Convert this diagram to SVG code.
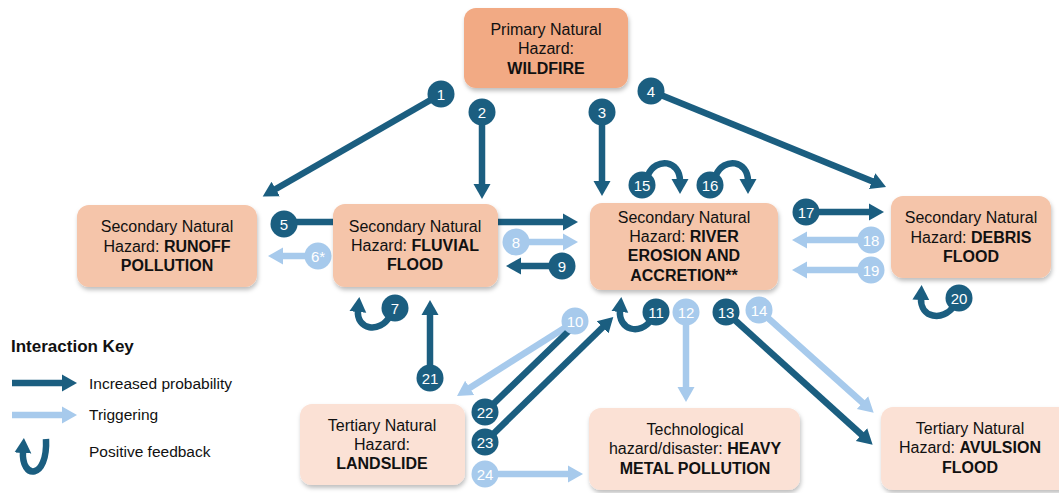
<svg xmlns="http://www.w3.org/2000/svg" width="1059" height="493" viewBox="0 0 1059 493">
<defs>
<filter id="sh" x="-10%" y="-10%" width="125%" height="130%">
<feDropShadow dx="1" dy="3" stdDeviation="2" flood-color="#000" flood-opacity="0.25"/>
</filter>
<marker id="ad" markerUnits="userSpaceOnUse" markerWidth="20" markerHeight="20" refX="2" refY="10" orient="auto"><path d="M0,1.5 L15,10 L0,18.5 Z" fill="#1B5E80"/></marker>
<marker id="al" markerUnits="userSpaceOnUse" markerWidth="20" markerHeight="20" refX="2" refY="10" orient="auto"><path d="M0,1.5 L15,10 L0,18.5 Z" fill="#A7CAEC"/></marker>
<style>
.box{stroke:none;filter:url(#sh)}
.p{fill:#F2AA84}.s{fill:#F5C5AA}.t{fill:#FBE1D5}
text{font-family:"Liberation Sans",Arial,sans-serif}
.nt{font-size:16px;fill:#111;text-anchor:middle}
.b{font-weight:bold}
.d{stroke:#1B5E80;stroke-width:6.5;fill:none}
.l{stroke:#A7CAEC;stroke-width:6.5;fill:none}
.cd{fill:#1B5E80}.cl{fill:#A7CAEC}
.n{font-size:15px;fill:#fff;text-anchor:middle}
.k{font-size:15.5px;fill:#111}
</style>
</defs>
<rect width="1059" height="493" fill="#fff"/>

<g id="connectors">
<line class="d" x1="441" y1="94" x2="274" y2="190" marker-end="url(#ad)"/>
<line class="d" x1="482" y1="112" x2="482" y2="186" marker-end="url(#ad)"/>
<line class="d" x1="602" y1="112" x2="602" y2="183" marker-end="url(#ad)"/>
<line class="d" x1="651" y1="91" x2="874" y2="182" marker-end="url(#ad)"/>
<line class="d" x1="284" y1="222" x2="565" y2="222" marker-end="url(#ad)"/>
<line class="l" x1="318" y1="256" x2="281" y2="256" marker-end="url(#al)"/>
<path class="d" d="M390,316 C380,334 356,330 358,310" marker-end="url(#ad)"/>
<line class="l" x1="516" y1="242" x2="565" y2="242" marker-end="url(#al)"/>
<line class="d" x1="562" y1="266" x2="519" y2="266" marker-end="url(#ad)"/>
<line class="l" x1="574" y1="322" x2="468" y2="389" marker-end="url(#al)"/>
<path class="d" d="M651,320 C640,336 618,330 620,310" marker-end="url(#ad)"/>
<line class="l" x1="686" y1="312" x2="686" y2="389" marker-end="url(#al)"/>
<line class="d" x1="726" y1="312" x2="863" y2="436" marker-end="url(#ad)"/>
<line class="l" x1="759" y1="310" x2="864" y2="404" marker-end="url(#al)"/>
<path class="d" d="M648,175 C656,157 680,160 680,181" marker-end="url(#ad)"/>
<path class="d" d="M716,175 C724,157 748,160 748,181" marker-end="url(#ad)"/>
<line class="d" x1="806" y1="212" x2="871" y2="212" marker-end="url(#ad)"/>
<line class="l" x1="871" y1="240" x2="805" y2="240" marker-end="url(#al)"/>
<line class="l" x1="871" y1="270" x2="805" y2="270" marker-end="url(#al)"/>
<path class="d" d="M954,306 C943,322 920,318 921,298" marker-end="url(#ad)"/>
<line class="d" x1="430" y1="378" x2="430" y2="313" marker-end="url(#ad)"/>
<line class="d" x1="485" y1="412" x2="577" y2="323" marker-end="url(#ad)"/>
<line class="d" x1="485" y1="442" x2="604" y2="326" marker-end="url(#ad)"/>
<line class="l" x1="485" y1="474" x2="570" y2="474" marker-end="url(#al)"/>

<g id="badges">
<circle class="cd" cx="441" cy="94" r="13.5"/><text class="n" x="441" y="99.5">1</text>
<circle class="cd" cx="482" cy="112" r="13.5"/><text class="n" x="482" y="117.5">2</text>
<circle class="cd" cx="602" cy="112" r="13.5"/><text class="n" x="602" y="117.5">3</text>
<circle class="cd" cx="651" cy="91" r="13.5"/><text class="n" x="651" y="96.5">4</text>
<circle class="cd" cx="284" cy="224" r="13.5"/><text class="n" x="284" y="229.5">5</text>
<circle class="cl" cx="318" cy="256" r="13.5"/><text class="n" x="318" y="261.5">6*</text>
<circle class="cd" cx="395" cy="308" r="13.5"/><text class="n" x="395" y="313.5">7</text>
<circle class="cl" cx="516" cy="242" r="13.5"/><text class="n" x="516" y="247.5">8</text>
<circle class="cd" cx="562" cy="266" r="13.5"/><text class="n" x="562" y="271.5">9</text>
<circle class="cl" cx="575" cy="321" r="13.5"/><text class="n" x="575" y="326.5">10</text>
<circle class="cd" cx="656" cy="312" r="13.5"/><text class="n" x="656" y="317.5">11</text>
<circle class="cl" cx="686" cy="312" r="13.5"/><text class="n" x="686" y="317.5">12</text>
<circle class="cd" cx="726" cy="312" r="13.5"/><text class="n" x="726" y="317.5">13</text>
<circle class="cl" cx="759" cy="310" r="13.5"/><text class="n" x="759" y="315.5">14</text>
<circle class="cd" cx="642" cy="185" r="13.5"/><text class="n" x="642" y="190.5">15</text>
<circle class="cd" cx="710" cy="185" r="13.5"/><text class="n" x="710" y="190.5">16</text>
<circle class="cd" cx="806" cy="212" r="13.5"/><text class="n" x="806" y="217.5">17</text>
<circle class="cl" cx="871" cy="240" r="13.5"/><text class="n" x="871" y="245.5">18</text>
<circle class="cl" cx="871" cy="270" r="13.5"/><text class="n" x="871" y="275.5">19</text>
<circle class="cd" cx="959" cy="298" r="13.5"/><text class="n" x="959" y="303.5">20</text>
<circle class="cd" cx="430" cy="378" r="13.5"/><text class="n" x="430" y="383.5">21</text>
<circle class="cd" cx="485" cy="412" r="13.5"/><text class="n" x="485" y="417.5">22</text>
<circle class="cd" cx="485" cy="442" r="13.5"/><text class="n" x="485" y="447.5">23</text>
<circle class="cl" cx="485" cy="474" r="13.5"/><text class="n" x="485" y="479.5">24</text>
</g>
</g>

<g id="wildfire">
<rect class="box p" x="464" y="8" width="164" height="80" rx="12"/>
<text class="nt" x="546" y="35">Primary Natural</text>
<text class="nt" x="546" y="54">Hazard:</text>
<text class="nt b" x="546" y="74">WILDFIRE</text>
</g>
<g id="runoff">
<rect class="box s" x="77" y="205" width="180" height="82" rx="12"/>
<text class="nt" x="167" y="232">Secondary Natural</text>
<text class="nt" x="167" y="252">Hazard: <tspan class="b">RUNOFF</tspan></text>
<text class="nt b" x="167" y="271">POLLUTION</text>
</g>
<g id="fluvial">
<rect class="box s" x="333" y="204" width="165" height="83" rx="12"/>
<text class="nt" x="415" y="232">Secondary Natural</text>
<text class="nt" x="415" y="251">Hazard: <tspan class="b">FLUVIAL</tspan></text>
<text class="nt b" x="415" y="270">FLOOD</text>
</g>
<g id="river">
<rect class="box s" x="590" y="203" width="188" height="87" rx="12"/>
<text class="nt" x="684" y="223">Secondary Natural</text>
<text class="nt" x="684" y="242">Hazard: <tspan class="b">RIVER</tspan></text>
<text class="nt b" x="684" y="261">EROSION AND</text>
<text class="nt b" x="684" y="281">ACCRETION**</text>
</g>
<g id="debris">
<rect class="box s" x="891" y="196" width="160" height="82" rx="12"/>
<text class="nt" x="971" y="223">Secondary Natural</text>
<text class="nt" x="971" y="243">Hazard: <tspan class="b">DEBRIS</tspan></text>
<text class="nt b" x="971" y="262">FLOOD</text>
</g>
<g id="landslide">
<rect class="box t" x="300" y="404" width="165" height="81" rx="12"/>
<text class="nt" x="382" y="431">Tertiary Natural</text>
<text class="nt" x="382" y="450">Hazard:</text>
<text class="nt b" x="382" y="469">LANDSLIDE</text>
</g>
<g id="heavymetal">
<rect class="box t" x="589" y="408" width="211" height="82" rx="12"/>
<text class="nt" x="695" y="435">Technological</text>
<text class="nt" x="695" y="454">hazard/disaster: <tspan class="b">HEAVY</tspan></text>
<text class="nt b" x="695" y="474">METAL POLLUTION</text>
</g>
<g id="avulsion">
<rect class="box t" x="881" y="407" width="190" height="83" rx="12"/>
<text class="nt" x="970" y="434">Tertiary Natural</text>
<text class="nt" x="970" y="453">Hazard: <tspan class="b">AVULSION</tspan></text>
<text class="nt b" x="970" y="473">FLOOD</text>
</g>

<g id="legend">
<text x="11" y="352" font-size="17" font-weight="bold" fill="#111" style="font-family:'Liberation Sans',Arial,sans-serif">Interaction Key</text>
<line class="d" x1="12" y1="383" x2="64" y2="383" marker-end="url(#ad)"/>
<text class="k" x="89" y="389">Increased probability</text>
<line class="l" x1="12" y1="415" x2="64" y2="415" marker-end="url(#al)"/>
<text class="k" x="89" y="420">Triggering</text>
<path class="d" d="M46,439 C48,480 21,480 23,451" marker-end="url(#ad)"/>
<text class="k" x="89" y="457">Positive feedback</text>
</g>
</svg>
